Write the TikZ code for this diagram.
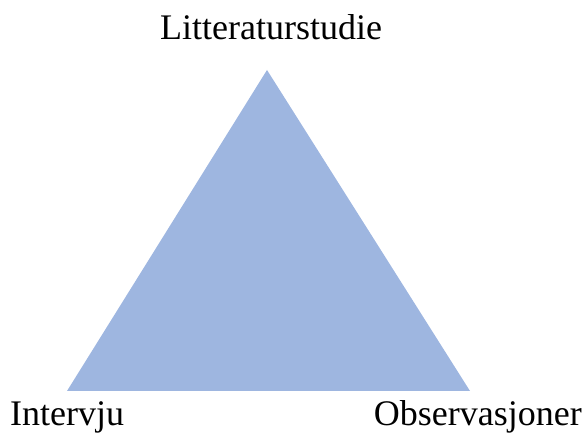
\documentclass[tikz,border=0pt]{standalone}
\usepackage{fontspec}
\setmainfont{Liberation Serif}
\usepackage{tikz}
\definecolor{trifill}{RGB}{158,182,224}
\tikzset{cornerlabel/.style={inner sep=0pt,font=\fontsize{36}{40}\selectfont}}

\begin{document}
\begin{tikzpicture}[x=1pt,y=1pt]
\useasboundingbox (0,0) rectangle (587,441);
% triangle:
\coordinate (top) at (267,371);
\coordinate (left) at (67,50);
\coordinate (right) at (470,50);
\path[fill=trifill] (top) -- (left) -- (right) -- cycle;
% labels:
\node[cornerlabel,anchor=base] (litt) at (271,401) {Litteraturstudie};
\node[cornerlabel,anchor=base west] (intv) at (10,15) {Intervju};
\node[cornerlabel,anchor=base east] (obs) at (582,15) {Observasjoner};
\end{tikzpicture}
\end{document}
